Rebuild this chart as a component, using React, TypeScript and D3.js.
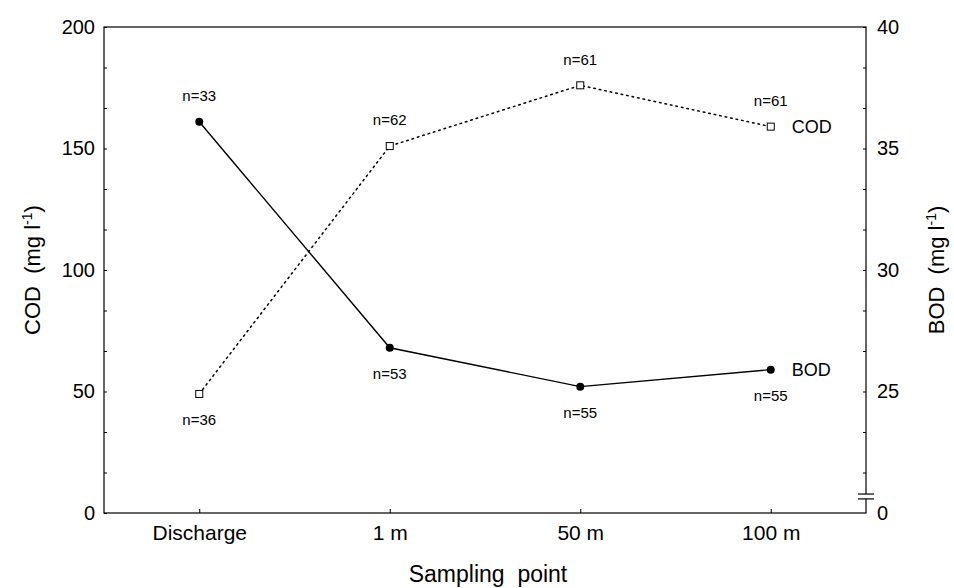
import React, { useEffect, useRef } from "react";
import * as d3 from "d3";

const categories = ["Discharge", "1 m", "50 m", "100 m"];
const codValues = [49, 151, 176, 159];
const bodValues = [36.1, 26.8, 25.2, 25.9];
const codN = [36, 62, 61, 61];
const bodN = [33, 53, 55, 55];
// label placement relative to the point: -1 above, 1 below
const codLabelSide = [1, -1, -1, -1];
const bodLabelSide = [-1, 1, 1, 1];
const codTicks = [0, 50, 100, 150, 200];
const bodTicks = [20, 25, 30, 35, 40];
const bodTickLabels = ["0", "25", "30", "35", "40"];

const width = 954;
const height = 588;
const margin = { top: 27, right: 88, bottom: 75, left: 104 };
const font = "'Liberation Sans', Arial, sans-serif";

const App = () => {
  const svgRef = useRef(null);

  useEffect(() => {
    const svg = d3.select(svgRef.current);
    svg.selectAll("*").remove();

    const x0 = margin.left;
    const x1 = width - margin.right;
    const y0 = height - margin.bottom;
    const y1 = margin.top;

    const x = d3.scalePoint().domain(categories).range([x0, x1]).padding(0.5);
    const yCod = d3.scaleLinear().domain([0, 200]).range([y0, y1]);
    const yBod = d3.scaleLinear().domain([20, 40]).range([y0, y1]);

    // frame
    svg
      .append("rect")
      .attr("x", x0)
      .attr("y", y1)
      .attr("width", x1 - x0)
      .attr("height", y0 - y1)
      .attr("fill", "none")
      .attr("stroke", "#000")
      .attr("stroke-width", 1.2);

    // left axis
    const leftMinor = d3.range(0, 200.01, 50 / 3);
    svg
      .append("g")
      .attr("transform", `translate(${x0},0)`)
      .call(
        d3.axisRight(yCod).tickValues(leftMinor).tickSize(3).tickFormat(() => "")
      )
      .call((g) => g.select(".domain").remove());
    svg
      .append("g")
      .attr("transform", `translate(${x0},0)`)
      .call(d3.axisLeft(yCod).tickValues(codTicks).tickSize(0).tickPadding(9))
      .call((g) => g.select(".domain").remove())
      .call((g) =>
        g.selectAll("text").attr("font-family", font).attr("font-size", 20).attr("fill", "#000")
      );

    // right axis
    const rightMinor = d3.range(20 + 5 / 3, 40.01, 5 / 3);
    svg
      .append("g")
      .attr("transform", `translate(${x1},0)`)
      .call(
        d3.axisLeft(yBod).tickValues(rightMinor).tickSize(3).tickFormat(() => "")
      )
      .call((g) => g.select(".domain").remove());
    svg
      .append("g")
      .attr("transform", `translate(${x1},0)`)
      .call(
        d3
          .axisRight(yBod)
          .tickValues(bodTicks)
          .tickSize(0)
          .tickPadding(11)
          .tickFormat((d, i) => bodTickLabels[i])
      )
      .call((g) => g.select(".domain").remove())
      .call((g) =>
        g.selectAll("text").attr("font-family", font).attr("font-size", 20).attr("fill", "#000")
      );

    // axis break on right axis
    const bA = yBod(20.78);
    const bB = yBod(20.58);
    svg
      .append("rect")
      .attr("x", x1 - 2)
      .attr("y", bA)
      .attr("width", 4)
      .attr("height", bB - bA)
      .attr("fill", "#fff");
    [bA, bB].forEach((yy) =>
      svg
        .append("line")
        .attr("x1", x1 - 8)
        .attr("x2", x1 + 8)
        .attr("y1", yy)
        .attr("y2", yy)
        .attr("stroke", "#000")
        .attr("stroke-width", 1.2)
    );

    // bottom axis
    svg
      .append("g")
      .attr("transform", `translate(0,${y0})`)
      .call(d3.axisTop(x).tickSize(4).tickFormat(() => ""))
      .call((g) => g.select(".domain").remove());
    svg
      .append("g")
      .attr("transform", `translate(0,${y0})`)
      .call(d3.axisBottom(x).tickSize(0).tickPadding(12))
      .call((g) => g.select(".domain").remove())
      .call((g) =>
        g.selectAll("text").attr("font-family", font).attr("font-size", 21).attr("fill", "#000")
      );

    // axis titles
    svg
      .append("text")
      .attr("x", (x0 + x1) / 2 + 3)
      .attr("y", 582)
      .attr("text-anchor", "middle")
      .attr("font-family", font)
      .attr("font-size", 23)
      .attr("xml:space", "preserve")
      .text("Sampling  point");

    const yTitle = (cx: number, label: string) => {
      const t = svg
        .append("text")
        .attr("transform", `translate(${cx},${(y0 + y1) / 2}) rotate(-90)`)
        .attr("text-anchor", "middle")
        .attr("font-family", font)
        .attr("font-size", 22)
        .attr("xml:space", "preserve");
      t.append("tspan").text(`${label}  (mg l`);
      t.append("tspan").attr("dy", -8).attr("font-size", 14).text("-1");
      t.append("tspan").attr("dy", 8).text(")");
    };
    yTitle(40, "COD");
    yTitle(944, "BOD");

    // lines
    const codLine = d3
      .line<number>()
      .x((d, i) => x(categories[i])!)
      .y((d) => yCod(d));
    const bodLine = d3
      .line<number>()
      .x((d, i) => x(categories[i])!)
      .y((d) => yBod(d));

    svg
      .append("path")
      .attr("d", codLine(codValues))
      .attr("fill", "none")
      .attr("stroke", "#000")
      .attr("stroke-width", 1.5)
      .attr("stroke-dasharray", "1.6,4")
      .attr("stroke-linecap", "round");
    svg
      .append("path")
      .attr("d", bodLine(bodValues))
      .attr("fill", "none")
      .attr("stroke", "#000")
      .attr("stroke-width", 1.4);

    // markers
    svg
      .selectAll("rect.cod")
      .data(codValues)
      .join("rect")
      .attr("class", "cod")
      .attr("x", (d, i) => x(categories[i])! - 3.5)
      .attr("y", (d) => yCod(d) - 3.5)
      .attr("width", 7)
      .attr("height", 7)
      .attr("fill", "#fff")
      .attr("stroke", "#000")
      .attr("stroke-width", 1);
    svg
      .selectAll("circle.bod")
      .data(bodValues)
      .join("circle")
      .attr("class", "bod")
      .attr("cx", (d, i) => x(categories[i])!)
      .attr("cy", (d) => yBod(d))
      .attr("r", 4)
      .attr("fill", "#000");

    // n labels
    const nLabel = (vals: number[], ns: number[], sides: number[], ys: (v: number) => number) =>
      svg
        .append("g")
        .selectAll("text")
        .data(vals)
        .join("text")
        .attr("x", (d, i) => x(categories[i])!)
        .attr("y", (d, i) => ys(d) + sides[i] * 26)
        .attr("dy", "0.35em")
        .attr("text-anchor", "middle")
        .attr("font-family", font)
        .attr("font-size", 15)
        .text((d, i) => `n=${ns[i]}`);
    nLabel(codValues, codN, codLabelSide, yCod);
    nLabel(bodValues, bodN, bodLabelSide, yBod);

    // series names
    const last = categories.length - 1;
    [
      { name: "COD", y: yCod(codValues[last]) },
      { name: "BOD", y: yBod(bodValues[last]) },
    ].forEach((s) =>
      svg
        .append("text")
        .attr("x", x(categories[last])! + 21)
        .attr("y", s.y)
        .attr("dy", "0.35em")
        .attr("font-family", font)
        .attr("font-size", 18)
        .text(s.name)
    );
  }, []);

  return (
    <svg
      ref={svgRef}
      width={width}
      height={height}
      style={{ position: "absolute", left: 0, top: 0, background: "#fff" }}
    />
  );
};

export default App;
